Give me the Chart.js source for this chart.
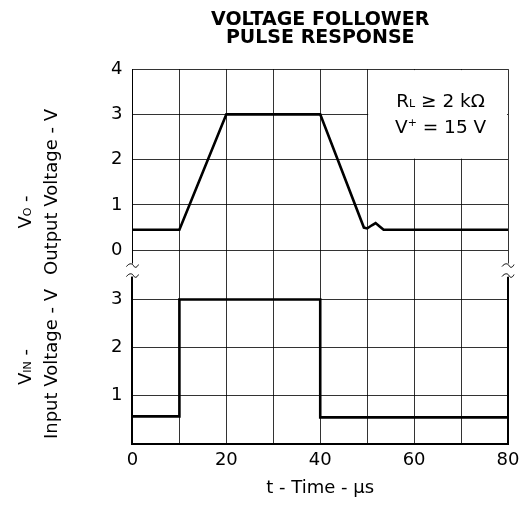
<!DOCTYPE html>
<html>
<head>
<meta charset="utf-8">
<script src="https://cdn.jsdelivr.net/npm/chart.js@4.4.1/dist/chart.umd.min.js"></script>
<style>
  html, body { margin: 0; padding: 0; background: #fff; }
  #wrap { width: 529px; height: 506px; }
</style>
</head>
<body>
<div id="wrap"><canvas id="pulse_chart"></canvas></div>
<script>
// upper panel: output voltage (V) vs time (us)
var outTime  = [0, 10, 20, 40, 49.3, 50, 51, 51.8, 52.6, 53.5, 80];
var outVolts = [0.45, 0.45, 3, 3, 0.5, 0.48, 0.55, 0.6, 0.53, 0.45, 0.45];
// lower panel: input voltage (V) vs time (us)
var inTime  = [0, 10, 10, 40, 40, 80];
var inVolts = [0.57, 0.57, 3, 3, 0.55, 0.55];

var timeTicks = [0, 10, 20, 30, 40, 50, 60, 70, 80];
var outTicks  = [0, 1, 2, 3, 4];
var inTicks   = [1, 2, 3];

var FONT = "'DejaVu Sans', 'Liberation Sans', Arial, sans-serif";
var GRID = 'rgba(0,0,0,0.8)';

function toPoints(xs, ys) {
  return xs.map(function (x, i) { return { x: x, y: ys[i] }; });
}
function setTicks(values) {
  return function (scale) {
    scale.ticks = values.map(function (v) { return { value: v }; });
  };
}

// text made of pieces, so subscripts / superscripts can be drawn
function drawParts(ctx, parts, x, y, align) {
  var total = 0;
  parts.forEach(function (p) {
    ctx.font = (p.bold ? 'bold ' : '') + p.size + 'px ' + FONT;
    p.w = ctx.measureText(p.t).width;
    total += p.w;
  });
  var cx = align === 'center' ? x - total / 2 : x;
  ctx.textAlign = 'left';
  ctx.textBaseline = 'alphabetic';
  parts.forEach(function (p) {
    ctx.font = (p.bold ? 'bold ' : '') + p.size + 'px ' + FONT;
    ctx.fillText(p.t, cx, y + (p.dy || 0));
    cx += p.w;
  });
}

function tilde(ctx, cx, cy) {
  ctx.beginPath();
  ctx.moveTo(cx - 6, cy + 1);
  ctx.bezierCurveTo(cx - 3, cy - 3, cx + 0, cy - 2, cx + 1, cy);
  ctx.bezierCurveTo(cx + 2, cy + 2, cx + 4, cy + 3, cx + 6, cy - 1);
  ctx.stroke();
}

var decorations = {
  id: 'decorations',
  beforeDatasetsDraw: function (chart) {
    var ctx = chart.ctx, xs = chart.scales.x, yt = chart.scales.yTop;
    // blank box behind the conditions text
    var x0 = xs.getPixelForValue(50), x1 = xs.getPixelForValue(80);
    var y0 = yt.getPixelForValue(4), y1 = yt.getPixelForValue(2);
    ctx.save();
    ctx.fillStyle = '#fff';
    ctx.fillRect(x0 + 1, y0 + 1, x1 - x0 - 2, y1 - y0 - 2);
    ctx.restore();
  },
  afterDraw: function (chart) {
    var ctx = chart.ctx, xs = chart.scales.x, yt = chart.scales.yTop;
    var area = chart.chartArea;
    var xl = xs.getPixelForValue(0), xr = xs.getPixelForValue(80);
    var brk = yt.bottom;
    ctx.save();
    // thick right edge on the input panel
    ctx.strokeStyle = '#000';
    ctx.lineWidth = 2;
    ctx.beginPath();
    ctx.moveTo(xr, brk + 6);
    ctx.lineTo(xr, area.bottom);
    ctx.stroke();
    // axis breaks
    ctx.fillStyle = '#fff';
    [xl, xr].forEach(function (x) {
      ctx.fillRect(x - 4, brk - 7, 8, 13);
      ctx.strokeStyle = '#000';
      ctx.lineWidth = 1;
      tilde(ctx, x, brk - 5);
      tilde(ctx, x, brk + 5);
    });

    ctx.fillStyle = '#000';
    // test conditions
    var cx = (xs.getPixelForValue(50) + xr) / 2 + 3;
    var ty = yt.getPixelForValue(4);
    drawParts(ctx, [{ t: 'R', size: 18.5 }, { t: 'L', size: 11 }, { t: ' \u2265 2 k\u03A9', size: 18.5 }], cx, ty + 38, 'center');
    drawParts(ctx, [{ t: 'V', size: 18.5 }, { t: '+', size: 11, dy: -7 }, { t: ' = 15 V', size: 18.5 }], cx, ty + 64, 'center');

    // rotated y titles
    function rotated(parts, x, y) {
      ctx.save();
      ctx.translate(x, y);
      ctx.rotate(-Math.PI / 2);
      drawParts(ctx, parts, 0, 0, 'center');
      ctx.restore();
    }
    rotated([{ t: 'V', size: 18 }, { t: 'O', size: 11 }, { t: ' -', size: 18 }], 31, 212);
    rotated([{ t: 'Output Voltage - V', size: 18 }], 57, 192);
    rotated([{ t: 'V', size: 18 }, { t: 'IN', size: 11 }, { t: ' -', size: 18 }], 31, 367);
    rotated([{ t: 'Input Voltage - V', size: 18 }], 57, 364);
    ctx.restore();
  }
};

new Chart(document.getElementById('pulse_chart'), {
  type: 'line',
  data: {
    datasets: [
      {
        label: 'Output',
        data: toPoints(outTime, outVolts),
        yAxisID: 'yTop',
        borderColor: '#000',
        borderWidth: 2.6,
        pointRadius: 0,
        tension: 0
      },
      {
        label: 'Input',
        data: toPoints(inTime, inVolts),
        yAxisID: 'yBottom',
        borderColor: '#000',
        borderWidth: 2.6,
        pointRadius: 0,
        tension: 0
      }
    ]
  },
  options: {
    responsive: true,
    maintainAspectRatio: false,
    animation: false,
    layout: { padding: { left: 101, right: 21, top: 0, bottom: 0 } },
    plugins: {
      legend: { display: false },
      tooltip: { enabled: false },
      title: {
        display: true,
        fullSize: false,
        text: ['VOLTAGE FOLLOWER', 'PULSE RESPONSE'],
        color: '#000',
        font: { family: FONT, size: 19, weight: 'bold', lineHeight: 0.95 },
        padding: { top: 11, bottom: 22 }
      }
    },
    scales: {
      x: {
        type: 'linear',
        min: 0,
        max: 80,
        afterBuildTicks: setTicks(timeTicks),
        grid: { color: GRID, lineWidth: 1, drawTicks: false },
        border: { display: true, color: '#000', width: 2 },
        ticks: {
          color: '#000',
          padding: 5.5,
          maxRotation: 0,
          font: { family: FONT, size: 18 },
          callback: function (v) { return v % 20 === 0 ? v : ''; }
        },
        title: {
          display: true,
          text: 't - Time - \u00B5s',
          color: '#000',
          font: { family: FONT, size: 18 },
          padding: { top: 1.3, bottom: 6.7 }
        }
      },
      yTop: {
        type: 'linear',
        position: 'left',
        stack: 'volts',
        stackWeight: 202,
        weight: 1,
        min: -0.45,
        max: 4,
        afterBuildTicks: setTicks(outTicks),
        grid: { color: GRID, lineWidth: 1, drawTicks: false },
        border: { display: true, color: '#000', width: 1 },
        ticks: { color: '#000', padding: 10, font: { family: FONT, size: 18 } }
      },
      yBottom: {
        type: 'linear',
        position: 'left',
        stack: 'volts',
        stackWeight: 173.7,
        weight: 0,
        min: 0,
        max: 3.6,
        afterBuildTicks: setTicks(inTicks),
        grid: { color: GRID, lineWidth: 1, drawTicks: false },
        border: { display: true, color: '#000', width: 2 },
        ticks: { color: '#000', padding: 10, font: { family: FONT, size: 18 } }
      }
    }
  },
  plugins: [decorations]
});
</script>
</body>
</html>
